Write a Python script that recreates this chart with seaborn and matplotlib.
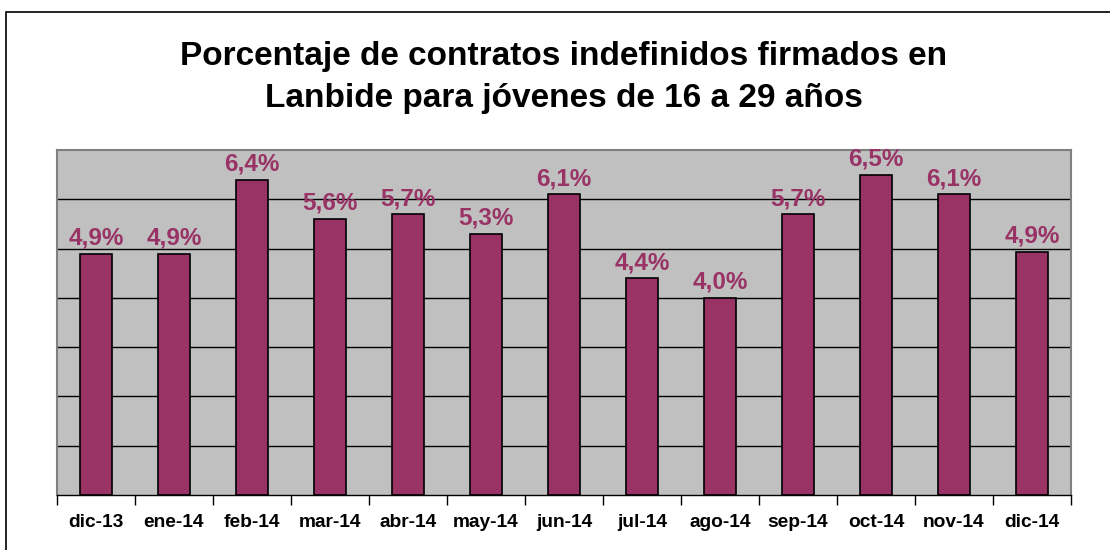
import matplotlib
matplotlib.use("Agg")
import matplotlib.pyplot as plt
import seaborn as sns
import pandas as pd
from matplotlib.patches import Rectangle
from matplotlib.ticker import FixedLocator

meses = ["dic-13", "ene-14", "feb-14", "mar-14", "abr-14", "may-14", "jun-14",
         "jul-14", "ago-14", "sep-14", "oct-14", "nov-14", "dic-14"]
porcentaje = [4.9, 4.9, 6.4, 5.6, 5.7, 5.3, 6.1, 4.4, 4.0, 5.7, 6.5, 6.1, 4.94]
titulo_1 = "Porcentaje de contratos indefinidos firmados en"
titulo_2 = "Lanbide para jóvenes de 16 a 29 años"

sns.set_theme(style="white")
plt.rcParams['font.family'] = ['Liberation Sans', 'DejaVu Sans']

df = pd.DataFrame({"mes": meses, "pct": porcentaje})

fig = plt.figure(figsize=(11.1, 5.5), dpi=100)
ax = fig.add_axes([57 / 1110, 1 - 495 / 550, (1071 - 57) / 1110, (495 - 150) / 550])
ax.set_facecolor("#C0C0C0")

sns.barplot(data=df, x="mes", y="pct", color="#993366", saturation=1,
            width=0.41, edgecolor="black", linewidth=1.2, ax=ax, zorder=3)

ax.set_ylim(0, 7)
ax.set_xlim(-0.5, len(meses) - 0.5)
ax.set_yticks([])
for y in range(1, 7):
    ax.axhline(y, color="black", linewidth=1, zorder=1)

# etiquetas de valor
for i, v in enumerate(porcentaje):
    ax.annotate(f"{v:.1f}%".replace(".", ","), (i, v), xytext=(0, 6.5),
                textcoords="offset points", ha="center", va="baseline",
                fontsize=17.5, fontweight="bold", color="#993366", zorder=4)

ax.set_xlabel("")
ax.set_ylabel("")
ax.tick_params(axis="x", which="major", length=0, pad=13.5, labelsize=13.8)
for lbl in ax.get_xticklabels():
    lbl.set_fontweight("bold")
    lbl.set_color("black")
ax.xaxis.set_minor_locator(FixedLocator([i - 0.5 for i in range(len(meses) + 1)]))
ax.tick_params(axis="x", which="minor", bottom=True, length=7, width=1, color="black", direction="out")

for s in ["top", "left", "right"]:
    ax.spines[s].set_color("#808080")
    ax.spines[s].set_linewidth(1.5)
ax.spines["bottom"].set_color("black")
ax.spines["bottom"].set_linewidth(1)

fig.text(0.5077, 1 - 65 / 550, titulo_1, ha="center", va="baseline",
         fontsize=24, fontweight="bold", color="black")
fig.text(0.5077, 1 - 107 / 550, titulo_2, ha="center", va="baseline",
         fontsize=24, fontweight="bold", color="black")

# marco exterior
fig.patches.append(Rectangle((6 / 1110, -0.1), 1.2, 1 - 12 / 550 + 0.1,
                             transform=fig.transFigure, fill=False,
                             edgecolor="black", linewidth=1.2))

fig.savefig("out.png", dpi=100)
